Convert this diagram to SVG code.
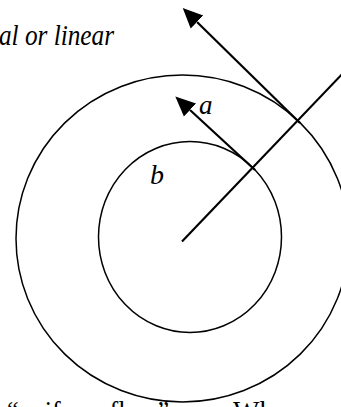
<svg xmlns="http://www.w3.org/2000/svg" width="341" height="407" viewBox="0 0 341 407">
<style>
.c{fill:none;stroke:#000;stroke-width:1.5}
.l{fill:none;stroke:#000;stroke-width:2.2}
.t{font-family:"Liberation Serif",serif;font-style:italic;fill:#000}
.u{font-family:"Liberation Serif",serif;fill:#000}
</style>
<defs>
<marker id="ah" markerUnits="userSpaceOnUse" markerWidth="24" markerHeight="24" refX="0" refY="10" orient="auto" viewBox="0 0 24 20">
<path d="M0,1 L20,10 L0,19 Z" fill="#000"/>
</marker>
</defs>
<g id="outer-circle"><ellipse class="c" cx="182.5" cy="238.5" rx="166.5" ry="163.5"/></g>
<g id="inner-circle"><ellipse class="c" cx="190" cy="237" rx="91.5" ry="95.5"/></g>
<g id="connectors">
<line class="l" x1="182" y1="241.5" x2="346" y2="70"/>
<line class="l" x1="300" y1="123" x2="197" y2="22" marker-end="url(#ah)"/>
<line class="l" x1="255" y1="170" x2="190" y2="110" marker-end="url(#ah)"/>
</g>
<g id="labels">
<text class="t" x="-1" y="45" font-size="30" textLength="115" lengthAdjust="spacingAndGlyphs">al or linear</text>
<text class="t" x="199" y="114" font-size="27">a</text>
<text class="t" x="150" y="184" font-size="28">b</text>
<text class="u" x="7" y="420" font-size="28" textLength="162" lengthAdjust="spacingAndGlyphs">“uniform flow”</text>
<text class="u" x="233" y="420" font-size="28">When</text>
</g>
</svg>
